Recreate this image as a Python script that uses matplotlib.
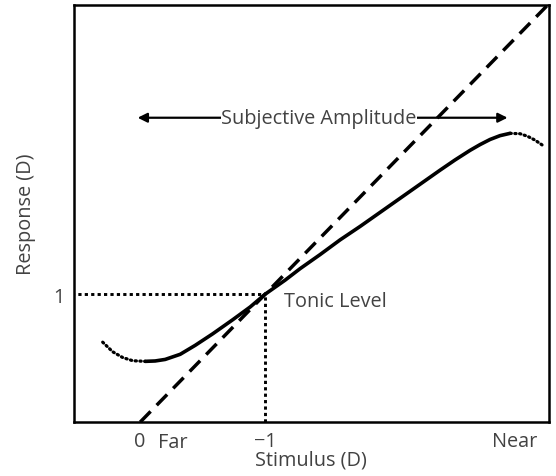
import matplotlib
matplotlib.use("Agg")
import matplotlib.pyplot as plt

plt.rcParams['font.family'] = ['Open Sans', 'DejaVu Sans']

# identity line (stimulus = response)
diag_x = [0.0, 3.27]
diag_y = [0.0, 3.27]

# response curve
left_tail_x = [-0.30, -0.22, -0.14, -0.06, 0.04]
left_tail_y = [0.625, 0.55, 0.505, 0.48, 0.475]
mid_x = [0.04, 0.12, 0.20, 0.32, 0.44, 0.58, 0.74, 0.88, 1.00, 1.16, 1.28,
         1.44, 1.60, 1.76, 1.92, 2.08, 2.24, 2.40, 2.52, 2.64, 2.72, 2.80,
         2.88, 2.96]
mid_y = [0.475, 0.478, 0.49, 0.53, 0.60, 0.69, 0.80, 0.90, 1.0, 1.11,
         1.20, 1.31, 1.425, 1.53, 1.64, 1.75, 1.86, 1.97, 2.05, 2.125, 2.17,
         2.21, 2.24, 2.258]
right_tail_x = [2.96, 3.04, 3.10, 3.16, 3.22]
right_tail_y = [2.258, 2.255, 2.235, 2.205, 2.165]

tonic_x = 1.0
tonic_y = 1.0

tick_pos = [0, 1, 3]
tick_lab = ["0", "\u22121", "Near"]

txt_col = "#424242"
fs = 14.3

fig = plt.figure(figsize=(5.56, 4.77), dpi=100)
ax = fig.add_axes([0.133, 0.113, 0.854, 0.874])

ax.plot(diag_x, diag_y, color="black", lw=2.5, dashes=(4.3, 2.5))
ax.plot(mid_x, mid_y, color="black", lw=2.6, solid_capstyle="round",
        solid_joinstyle="round")
ax.plot(left_tail_x, left_tail_y, color="black", lw=2.3, linestyle=(0, (0.4, 1.1)),
        dash_capstyle="round")
ax.plot(right_tail_x, right_tail_y, color="black", lw=2.3, linestyle=(0, (0.4, 1.1)),
        dash_capstyle="round")

# tonic level guides
ax.plot([-0.6, tonic_x], [tonic_y, tonic_y], color="black", lw=2.1,
        linestyle=(0, (1.1, 1.1)))
ax.plot([tonic_x, tonic_x], [0, tonic_y], color="black", lw=2.1,
        linestyle=(0, (1.1, 1.1)))

# subjective amplitude arrow
ax.annotate("", xy=(-0.02, 2.38), xytext=(2.94, 2.38),
            arrowprops=dict(arrowstyle="<|-|>", color="black", lw=1.6,
                            mutation_scale=14, shrinkA=0, shrinkB=0))
ax.text(1.43, 2.38, "Subjective Amplitude", ha="center", va="center",
        fontsize=fs, color=txt_col,
        bbox=dict(facecolor="white", edgecolor="none", pad=0.2))

ax.text(1.15, 0.945, "Tonic Level", ha="left", va="center", fontsize=fs,
        color=txt_col)

ax.set_xlim(-0.53, 3.27)
ax.set_ylim(0, 3.26)

ax.set_xticks(tick_pos)
ax.set_xticklabels(tick_lab)
ax.set_yticks([1])
ax.set_yticklabels(["1"])
ax.tick_params(length=0, labelsize=fs, labelcolor=txt_col, pad=6.5)
ax.text(0.14, -0.155, "Far", ha="left", va="center", fontsize=fs,
        color=txt_col, clip_on=False)

ax.set_xlabel("Stimulus (D)", fontsize=fs, color=txt_col, labelpad=-1)
ax.set_ylabel("Response (D)", fontsize=fs, color=txt_col, labelpad=13)

for sp in ax.spines.values():
    sp.set_linewidth(1.8)

fig.savefig("out.png", dpi=100)
